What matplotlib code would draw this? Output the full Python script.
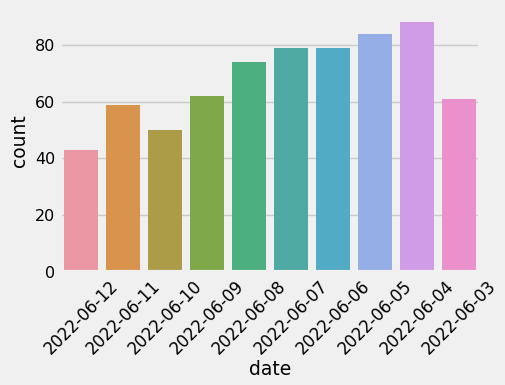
import matplotlib
matplotlib.use("Agg")
import matplotlib.pyplot as plt
import pandas as pd
import seaborn as sns

dates = [
    "2022-06-12", "2022-06-11", "2022-06-10", "2022-06-09", "2022-06-08",
    "2022-06-07", "2022-06-06", "2022-06-05", "2022-06-04", "2022-06-03",
]
counts = [43, 59, 50, 62, 74, 79, 79, 84, 88, 61]

# old seaborn countplot look: husl palette, desaturated
bar_colors = [
    "#ea97a3", "#d8934c", "#ac9c48", "#7ea84a", "#4caf80",
    "#4da9a1", "#51abc4", "#96aee6", "#d09ce8", "#ea90ca",
]

plt.style.use("fivethirtyeight")

df = pd.DataFrame({"date": dates, "count": counts})

fig = plt.figure(figsize=(5.06, 3.85), dpi=100)
ax = fig.add_axes([0.119, 0.294, 0.83, 0.68])
sns.barplot(data=df, x="date", y="count", hue="date", palette=bar_colors,
            saturation=1, legend=False, ax=ax, order=dates)

ax.set_xlabel("date", fontsize=13.5, labelpad=2)
ax.set_ylabel("count", fontsize=13.5)
ax.tick_params(axis="y", labelsize=11.5)
ax.tick_params(axis="x", labelsize=12, labelrotation=45)
ax.set_yticks([0, 20, 40, 60, 80])
ax.grid(axis="x", visible=False)

fig.savefig("out.png", dpi=100)
